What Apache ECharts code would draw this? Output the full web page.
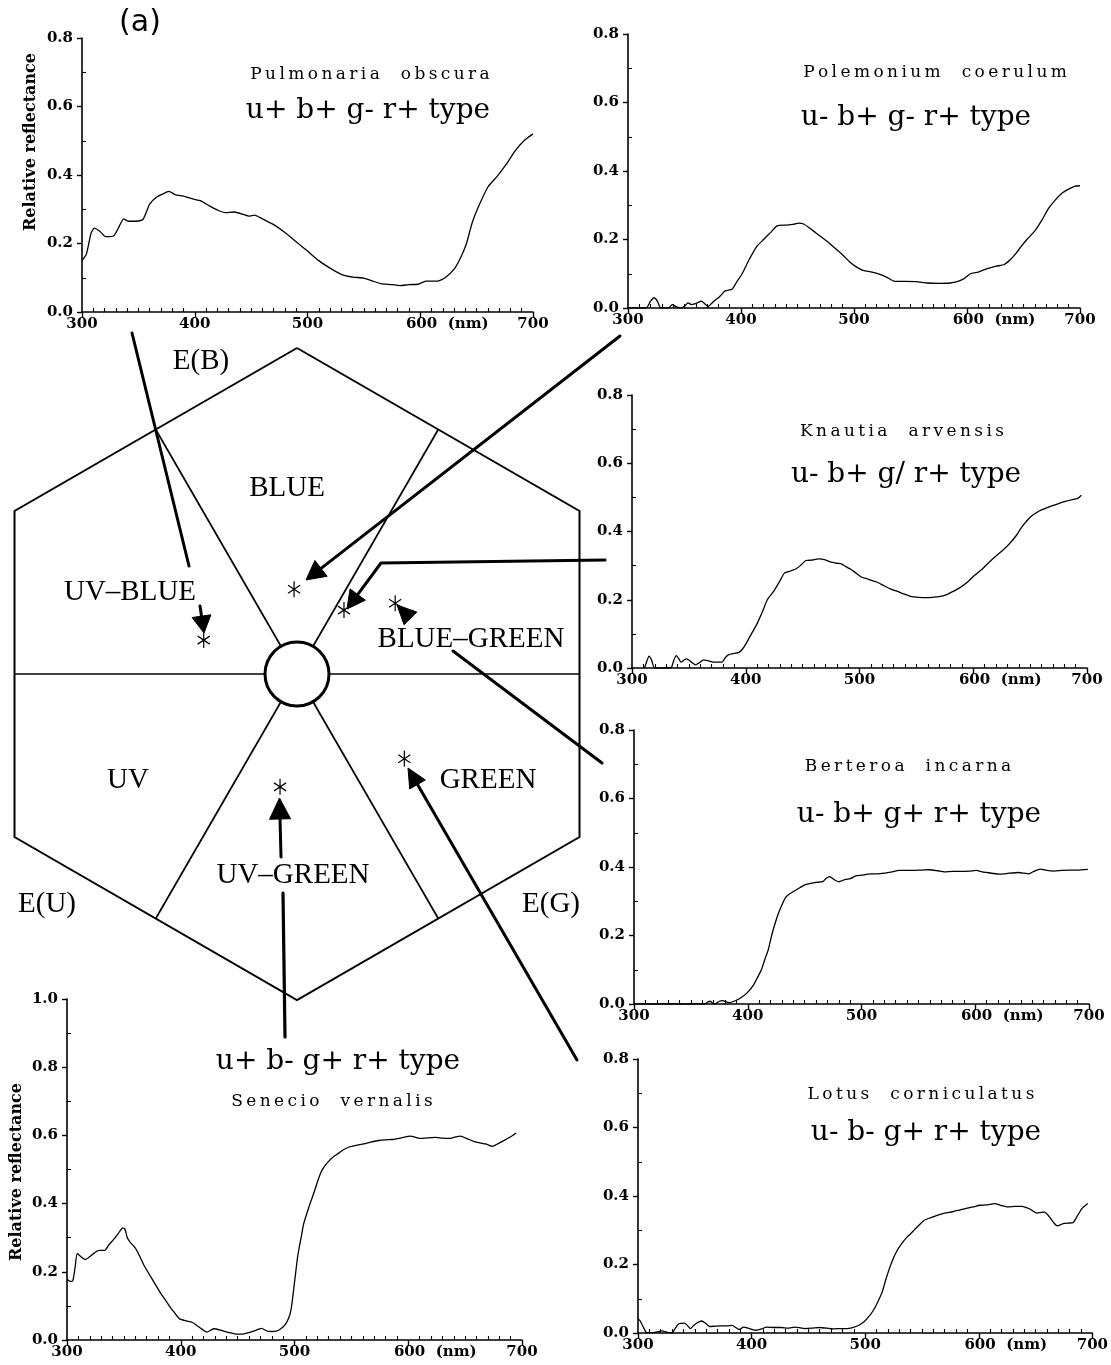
<!DOCTYPE html>
<html><head><meta charset="utf-8">
<script src="https://cdn.jsdelivr.net/npm/echarts@6/dist/echarts.min.js"></script>
<style>html,body{margin:0;padding:0;background:#fff}#c{width:1111px;height:1365px}</style>
</head><body><div id="c"></div>
<script>
// ---------------- DATA (wavelength nm, relative reflectance) ----------------
const pulmonaria = [[300,0.15],[304,0.17],[308,0.23],[311,0.245],[316,0.235],[321,0.22],[328,0.222],[333,0.25],[337,0.272],[341,0.265],[348,0.265],[354,0.27],[360,0.315],[366,0.335],[372,0.345],[377,0.352],[383,0.342],[390,0.338],[398,0.33],[405,0.325],[413,0.31],[420,0.298],[427,0.29],[435,0.292],[443,0.285],[448,0.28],[453,0.283],[460,0.272],[470,0.255],[480,0.232],[490,0.205],[500,0.178],[510,0.15],[520,0.128],[530,0.11],[540,0.102],[550,0.099],[558,0.09],[565,0.083],[575,0.08],[582,0.077],[590,0.08],[598,0.081],[605,0.09],[615,0.09],[622,0.1],[630,0.125],[636,0.16],[641,0.2],[646,0.26],[652,0.31],[660,0.365],[668,0.395],[676,0.43],[684,0.47],[692,0.5],[700,0.52]];
const polemonium = [[300,0],[316,0],[320,0.02],[323,0.03],[326,0.02],[329,0.0],[336,0.0],[339,0.01],[342,0.005],[346,0.0],[350,0.005],[353,0.015],[356,0.01],[359,0.012],[362,0.016],[365,0.02],[368,0.012],[371,0.005],[376,0.02],[381,0.033],[386,0.05],[392,0.055],[396,0.075],[401,0.1],[407,0.14],[414,0.18],[420,0.2],[426,0.22],[432,0.24],[440,0.242],[446,0.244],[451,0.248],[455,0.246],[460,0.235],[466,0.22],[472,0.205],[478,0.19],[484,0.172],[490,0.155],[496,0.135],[502,0.12],[508,0.11],[516,0.105],[523,0.098],[530,0.088],[536,0.078],[545,0.078],[555,0.077],[565,0.073],[575,0.072],[585,0.073],[592,0.078],[597,0.085],[603,0.1],[610,0.105],[618,0.115],[626,0.122],[633,0.127],[638,0.14],[643,0.158],[648,0.18],[653,0.2],[660,0.225],[666,0.255],[672,0.29],[678,0.315],[684,0.335],[690,0.347],[695,0.355],[700,0.357]];
const knautia = [[311,0],[313,0.02],[315,0.035],[317,0.025],[320,0],[334,0],[337,0.025],[339,0.036],[341,0.028],[343,0.017],[346,0.024],[348,0.027],[352,0.018],[356,0.009],[359,0.015],[363,0.024],[368,0.02],[373,0.017],[379,0.017],[382,0.03],[385,0.039],[390,0.043],[394,0.046],[397,0.055],[400,0.07],[405,0.1],[410,0.13],[415,0.168],[419,0.2],[425,0.227],[430,0.255],[434,0.278],[440,0.285],[444,0.29],[448,0.3],[453,0.315],[458,0.316],[464,0.32],[470,0.317],[475,0.31],[480,0.307],[484,0.305],[488,0.297],[492,0.29],[497,0.278],[502,0.266],[508,0.26],[515,0.252],[521,0.242],[527,0.232],[533,0.225],[539,0.217],[545,0.21],[552,0.207],[558,0.206],[564,0.207],[570,0.209],[576,0.214],[582,0.224],[589,0.237],[595,0.252],[601,0.271],[608,0.29],[614,0.31],[620,0.328],[626,0.345],[632,0.365],[638,0.389],[642,0.41],[645,0.423],[650,0.442],[654,0.452],[658,0.46],[663,0.467],[669,0.475],[675,0.482],[681,0.488],[688,0.494],[692,0.497],[695,0.506]];
const berteroa = [[300,0],[362,0],[365,0.006],[367,0.008],[369,0.003],[371,0.0],[375,0.008],[378,0.01],[381,0.006],[384,0.004],[388,0.008],[393,0.016],[399,0.031],[405,0.055],[409,0.08],[412,0.1],[415,0.13],[418,0.158],[421,0.2],[424,0.235],[427,0.265],[430,0.289],[433,0.31],[436,0.32],[441,0.33],[446,0.34],[450,0.348],[455,0.352],[460,0.355],[466,0.357],[469,0.367],[472,0.372],[476,0.363],[480,0.357],[486,0.364],[490,0.366],[495,0.374],[500,0.376],[508,0.38],[514,0.38],[520,0.382],[527,0.386],[533,0.39],[545,0.39],[553,0.391],[560,0.392],[567,0.389],[573,0.386],[580,0.387],[588,0.387],[595,0.388],[601,0.39],[606,0.386],[610,0.384],[616,0.381],[622,0.379],[630,0.382],[638,0.384],[643,0.382],[647,0.38],[652,0.388],[657,0.394],[663,0.39],[669,0.388],[676,0.39],[682,0.391],[690,0.391],[699,0.393]];
const lotus = [[300,0.042],[302,0.035],[305,0.015],[308,0],[315,0.002],[321,0.006],[326,0.002],[330,0],[333,0.015],[336,0.027],[341,0.029],[344,0.02],[346,0.013],[350,0.025],[356,0.035],[360,0.027],[363,0.019],[368,0.02],[373,0.021],[378,0.021],[383,0.022],[386,0.016],[389,0.01],[393,0.017],[398,0.013],[404,0.008],[409,0.012],[413,0.017],[420,0.016],[426,0.016],[432,0.014],[438,0.017],[443,0.015],[447,0.013],[453,0.014],[460,0.016],[466,0.014],[472,0.012],[478,0.013],[484,0.013],[489,0.016],[494,0.022],[499,0.033],[503,0.047],[507,0.065],[511,0.09],[515,0.12],[518,0.154],[521,0.185],[524,0.212],[528,0.24],[532,0.26],[536,0.277],[540,0.29],[546,0.31],[552,0.329],[558,0.337],[564,0.344],[570,0.35],[577,0.354],[583,0.359],[589,0.364],[595,0.368],[601,0.373],[607,0.374],[614,0.378],[620,0.372],[626,0.368],[632,0.37],[638,0.37],[645,0.362],[651,0.35],[655,0.352],[658,0.353],[662,0.34],[666,0.322],[669,0.313],[672,0.316],[675,0.32],[679,0.321],[683,0.322],[687,0.343],[691,0.364],[696,0.378]];
const senecio = [[300,0.178],[303,0.172],[305,0.173],[307,0.21],[309,0.254],[312,0.245],[316,0.236],[322,0.25],[328,0.263],[333,0.263],[337,0.28],[341,0.295],[345,0.312],[349,0.329],[351,0.325],[353,0.3],[356,0.285],[360,0.27],[364,0.245],[368,0.217],[375,0.178],[382,0.139],[387,0.115],[391,0.095],[395,0.078],[399,0.062],[405,0.056],[410,0.052],[416,0.038],[423,0.023],[429,0.033],[435,0.029],[440,0.024],[445,0.02],[450,0.017],[454,0.017],[459,0.021],[464,0.026],[471,0.034],[476,0.026],[480,0.025],[484,0.026],[488,0.033],[492,0.046],[495,0.065],[497,0.09],[499,0.14],[501,0.197],[503,0.25],[506,0.304],[508,0.34],[511,0.373],[514,0.403],[517,0.431],[520,0.462],[523,0.49],[526,0.508],[530,0.524],[534,0.537],[539,0.548],[543,0.558],[548,0.566],[554,0.571],[561,0.575],[567,0.58],[574,0.585],[580,0.587],[586,0.588],[593,0.592],[602,0.598],[606,0.595],[611,0.591],[617,0.593],[624,0.594],[630,0.592],[636,0.591],[641,0.595],[646,0.598],[652,0.59],[658,0.582],[663,0.578],[668,0.575],[674,0.568],[679,0.576],[684,0.585],[690,0.596],[695,0.607]];

// colour-hexagon loci of the six species (hexagon units, radius 1)
const hexPointX = [-0.009, 0.144, 0.301, -0.286, 0.329, -0.052];
const hexPointY = [0.260, 0.196, 0.217, 0.104, -0.260, -0.346];

// tick labels
const wavelengthTicks = [300, 400, 500, 600, 700];
const speciesNames = ['Pulmonaria  obscura','Polemonium  coerulum','Knautia  arvensis','Berteroa  incarna','Lotus  corniculatus','Senecio  vernalis'];
const typeLabels = ['u+ b+ g- r+ type','u- b+ g- r+ type','u- b+ g/ r+ type','u- b+ g+ r+ type','u- b- g+ r+ type','u+ b- g+ r+ type'];
const sectorLabels = ['BLUE','UV\u2013BLUE','BLUE\u2013GREEN','UV','GREEN','UV\u2013GREEN','E(B)','E(U)','E(G)'];

// ---------------- LAYOUT ----------------
const SERIF = '"DejaVu Serif", serif';
const CM = '"Liberation Serif", "Times New Roman", serif';
const spectra = [pulmonaria, polemonium, knautia, berteroa, lotus, senecio];
const panelGrids = [
  {left:82, top:38, width:451, height:274, ymax:0.8},
  {left:628, top:34, width:452, height:274, ymax:0.8},
  {left:632, top:395, width:455, height:273, ymax:0.8},
  {left:634, top:730, width:455, height:274, ymax:0.8},
  {left:638, top:1059, width:456, height:274, ymax:0.8},
  {left:67, top:999, width:455, height:341, ymax:1.0}
];
const hexGrid = {left:14.5, top:348, width:565, height:652};
const H = Math.sqrt(3)/2;
const N = panelGrids.length;

const grids = panelGrids.map(g => ({left:g.left, top:g.top, width:g.width, height:g.height, containLabel:false}));
grids.push({left:hexGrid.left, top:hexGrid.top, width:hexGrid.width, height:hexGrid.height});

const axisLineStyle = {color:'#000', width:1.6};
const labelStyle = {fontFamily:SERIF, fontWeight:'bold', fontSize:15, color:'#000'};
const xMin = wavelengthTicks[0], xMax = wavelengthTicks[wavelengthTicks.length-1];

const xAxes = panelGrids.map((g,i) => ({
  gridIndex:i, type:'value', min:xMin, max:xMax, interval:100, position:'bottom',
  axisLine:{show:true, onZero:false, lineStyle:axisLineStyle},
  axisTick:{show:true, length:6, lineStyle:{color:'#000', width:1.4}},
  minorTick:{show:false},
  splitLine:{show:false}, minorSplitLine:{show:false},
  axisLabel:Object.assign({}, labelStyle, {
    margin:5, showMinLabel:true, showMaxLabel:true, hideOverlap:false,
    formatter: v => v === 600 ? '{sp| }600  (nm)' : String(v),
    rich:{sp:{width:54}}
  })
}));
xAxes.push({gridIndex:N, type:'value', min:-H, max:H, show:false});
// inner minor-tick axes (ticks pointing into the plot)
panelGrids.forEach((g,i) => xAxes.push({
  gridIndex:i, type:'value', min:xMin, max:xMax, interval:100, position:'bottom', offset:0,
  axisLine:{show:false, onZero:false}, axisLabel:{show:false}, splitLine:{show:false},
  axisTick:{show:false, inside:true},
  minorTick:{show:true, splitNumber:10, length:4, lineStyle:{color:'#000', width:1.1}}
}));

const yAxes = panelGrids.map((g,i) => ({
  gridIndex:i, type:'value', min:0, max:g.ymax, interval:0.2, position:'left',
  axisLine:{show:true, onZero:false, lineStyle:axisLineStyle},
  axisTick:{show:true, length:5, lineStyle:{color:'#000', width:1.4}},
  minorTick:{show:false},
  splitLine:{show:false}, minorSplitLine:{show:false},
  axisLabel:Object.assign({}, labelStyle, {margin:9, showMinLabel:true, showMaxLabel:true, formatter: v => v.toFixed(1)})
}));
yAxes.push({gridIndex:N, type:'value', min:-1, max:1, show:false});
panelGrids.forEach((g,i) => yAxes.push({
  gridIndex:i, type:'value', min:0, max:g.ymax, interval:0.2, position:'left', offset:0,
  axisLine:{show:false, onZero:false}, axisLabel:{show:false}, splitLine:{show:false},
  axisTick:{show:false, inside:true},
  minorTick:{show:true, splitNumber:2, length:4, lineStyle:{color:'#000', width:1.1}}
}));

const series = spectra.map((d,i) => ({
  type:'line', xAxisIndex:i, yAxisIndex:i, data:d, showSymbol:false, symbol:'none',
  smooth:0.2, lineStyle:{color:'#000', width:1.3}, silent:true, animation:false
}));

// hexagon outline and sector dividers
const hexOutline = [[0,1],[H,0.5],[H,-0.5],[0,-1],[-H,-0.5],[-H,0.5],[0,1]];
series.push({
  type:'lines', coordinateSystem:'cartesian2d', xAxisIndex:N, yAxisIndex:N, polyline:true, clip:false, silent:true,
  data:[{coords:hexOutline}], lineStyle:{color:'#000', width:2, opacity:1}, z:3, animation:false
});
series.push({
  type:'lines', coordinateSystem:'cartesian2d', xAxisIndex:N, yAxisIndex:N, clip:false, silent:true,
  data:[{coords:[[-H,0],[H,0]]},{coords:[[-H/2,0.75],[H/2,-0.75]]},{coords:[[H/2,0.75],[-H/2,-0.75]]}],
  lineStyle:{color:'#000', width:1.7, opacity:1}, z:3, animation:false
});
series.push({
  type:'scatter', xAxisIndex:N, yAxisIndex:N, data:[[0,0]], symbol:'circle', symbolSize:64, silent:true,
  itemStyle:{color:'#fff', borderColor:'#000', borderWidth:3, opacity:1}, z:5, animation:false
});
series.push({
  type:'scatter', xAxisIndex:N, yAxisIndex:N, silent:true, animation:false,
  data:hexPointX.map((x,i)=>[x, hexPointY[i]]),
  symbol:'path://M10,0L10,20M1.34,5L18.66,15M1.34,15L18.66,5', symbolSize:[14,16], symbolKeepAspect:true,
  itemStyle:{color:'none', borderColor:'#000', borderWidth:1.3, opacity:1}, z:6
});

// ---------------- TEXT & ARROWS ----------------
const graphics = [];
function txt(text, x, y, font, rot) {
  graphics.push({type:'text', x:x, y:y, rotation:rot||0, z:20, silent:true,
    style:{text:text, font:font, fill:'#000', textAlign:'center', textVerticalAlign:'middle', align:'center', verticalAlign:'middle'}});
}
const spaced = s => s.split('').join('\u2009');
const namePos = [[370,75],[935,73],[902,432],[908,767],[921,1095],[332,1102]];
const typePos = [[368,111],[916,118],[906,475],[919,815],[926,1133],[338,1062]];
speciesNames.forEach((s,i)=>txt(spaced(s), namePos[i][0], namePos[i][1], '17px '+SERIF));
typeLabels.forEach((s,i)=>txt(s, typePos[i][0], typePos[i][1], '28px '+SERIF));
txt('Relative reflectance', 31, 142, 'bold 16px '+SERIF, Math.PI/2);
txt('Relative reflectance', 17, 1172, 'bold 16px '+SERIF, Math.PI/2);
txt('(a)', 140, 23, '30px "DejaVu Sans", sans-serif');
const sectorPos = [[287,488],[130,592],[471,639],[128,780],[488,780],[293,875],[201,361],[47,904],[551,904]];
sectorLabels.forEach((s,i)=>txt(s, sectorPos[i][0], sectorPos[i][1], '29px '+CM));

function line(pts, w) {
  graphics.push({type:'polyline', z:15, silent:true, shape:{points:pts}, style:{stroke:'#000', lineWidth:w||3, fill:null, lineCap:'round', lineJoin:'round'}});
}
function head(tip, from, len, wid) {
  const dx = tip[0]-from[0], dy = tip[1]-from[1], L = Math.hypot(dx,dy);
  const ux = dx/L, uy = dy/L, bx = tip[0]-ux*len, by = tip[1]-uy*len;
  const px = -uy*wid/2, py = ux*wid/2;
  graphics.push({type:'polygon', z:16, silent:true, shape:{points:[tip,[bx+px,by+py],[bx-px,by-py]]}, style:{fill:'#000', stroke:'#000', lineWidth:1}});
  return [bx+ux*2, by+uy*2];
}
function arrow(pts, len, wid) {
  const tip = pts[pts.length-1], prev = pts[pts.length-2];
  const base = head(tip, prev, len, wid);
  line(pts.slice(0,-1).concat([base]), 3);
}
line([[132,333],[189,566]], 3);
arrow([[200,606],[204,633]], 17, 19);
arrow([[620,336],[306,580]], 19, 20);
arrow([[605,560],[381,563],[347,609]], 18, 19);
line([[453,651],[602,763]], 3);
head([397,605],[410,618], 19, 18);
arrow([[577,1060],[408,768]], 19, 18);
line([[285,1037],[283,893]], 3.2);
arrow([[281,857],[279.5,798]], 21, 21);

const chart = echarts.init(document.getElementById('c'), null, {renderer:'canvas'});
chart.setOption({
  animation:false, backgroundColor:'#fff',
  grid:grids, xAxis:xAxes, yAxis:yAxes, series:series, graphic:graphics
});
</script></body></html>
